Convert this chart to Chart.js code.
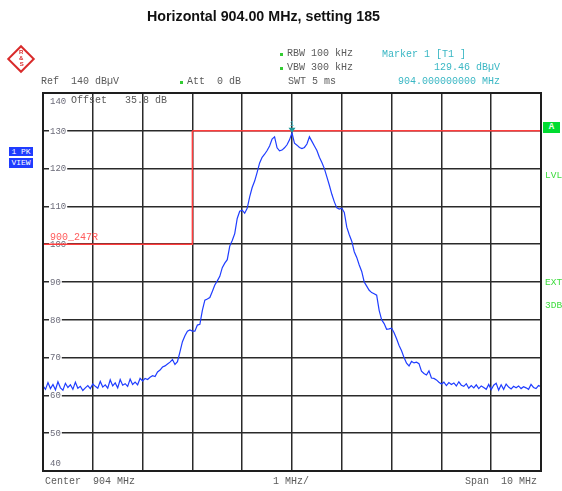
<!DOCTYPE html>
<html>
<head>
<meta charset="utf-8">
<script src="https://cdn.jsdelivr.net/npm/chart.js@4/dist/chart.umd.min.js"></script>
<style>
html,body{margin:0;padding:0;background:#fff;}
#wrap{position:relative;width:562px;height:491px;overflow:hidden;background:#fff;}
#c{position:absolute;left:0;top:0;}
.t{position:absolute;font-family:"Liberation Mono","DejaVu Sans Mono",monospace;font-size:10px;line-height:10px;color:#5a5a5a;white-space:pre;}
.cy{color:#3ab7c4;}
.gr{color:#3fdc3f;font-size:9.5px;}
.dot{position:absolute;width:3px;height:3px;background:#33cc33;}
#title{position:absolute;left:147px;top:8px;font-family:"Liberation Sans Narrow","Liberation Sans",Arial,sans-serif;font-weight:bold;font-size:15px;line-height:15px;color:#111;white-space:pre;transform-origin:0 0;}
.box{position:absolute;background:#1f3cff;color:#fff;font-family:"Liberation Mono",monospace;font-size:8px;line-height:10px;text-align:center;}
#abox{position:absolute;left:543px;top:122px;width:17px;height:11px;background:#00dc30;color:#e8ffe8;font-family:"Liberation Mono",monospace;font-size:9px;line-height:11px;text-align:center;font-weight:bold;}
#logo{position:absolute;left:11px;top:49px;width:16px;height:16px;border:2px solid #d92b2b;transform:rotate(45deg);}
#logo span{position:absolute;font-family:"Liberation Sans",sans-serif;font-size:6px;font-weight:bold;color:#d92b2b;transform:rotate(-45deg);}
</style>
</head>
<body>
<div id="wrap">
<canvas id="c" width="562" height="491"></canvas>
<div id="title">Horizontal 904.00 MHz, setting 185</div>
<div id="logo"><span style="left:1px;top:0px">R</span><span style="left:5px;top:4px">&amp;</span><span style="left:10px;top:8px">S</span></div>

<div class="dot" style="left:280px;top:53px"></div>
<div class="t" style="left:287px;top:49px">RBW 100 kHz</div>
<div class="dot" style="left:280px;top:67px"></div>
<div class="t" style="left:287px;top:63px">VBW 300 kHz</div>
<div class="t cy" style="left:382px;top:50px">Marker 1 [T1 ]</div>
<div class="t cy" style="right:62px;top:63px">129.46 dBµV</div>
<div class="t cy" style="right:62px;top:77px">904.000000000 MHz</div>
<div class="t" style="left:41px;top:77px">Ref  140 dBµV</div>
<div class="dot" style="left:180px;top:81px"></div>
<div class="t" style="left:187px;top:77px">Att  0 dB</div>
<div class="t" style="left:288px;top:77px">SWT 5 ms</div>

<div class="t" style="left:71px;top:96px">Offset   35.8 dB</div>

<div class="box" style="left:9px;top:147px;width:24px;height:9px;line-height:9px;">1 PK</div>
<div class="box" style="left:9px;top:158px;width:24px;height:10px;">VIEW</div>

<div id="abox">A</div>
<div class="t gr" style="left:545px;top:171px">LVL</div>
<div class="t gr" style="left:545px;top:278px">EXT</div>
<div class="t gr" style="left:545px;top:301px">3DB</div>

<div class="t" style="left:45px;top:477px">Center  904 MHz</div>
<div class="t" style="left:273px;top:477px">1 MHz/</div>
<div class="t" style="left:465px;top:477px">Span  10 MHz</div>
</div>

<script>
// ---- data ----
const centerMHz = 904;
const spanMHz = 10;
const sweepPoints = 201;
const freqMHz = Array.from({length: sweepPoints}, (_, i) => centerMHz - spanMHz / 2 + i * spanMHz / (sweepPoints - 1));

const levelDbuV = [
  62.5, 61.6, 63.4, 61.8, 62.9, 61.5, 63.6, 62.0, 61.4, 63.2,
  62.1, 62.8, 61.6, 63.5, 61.9, 62.4, 61.3, 62.0, 62.6, 61.8,
  63.0, 62.4, 61.9, 63.7, 62.2, 62.8, 61.9, 64.1, 62.5, 63.3,
  62.0, 64.2, 62.7, 63.1, 62.4, 64.3, 62.9, 63.5, 62.8, 64.5,
  63.8, 64.5, 64.2, 64.8, 65.2, 65.0, 66.2, 66.7, 67.5, 67.8,
  68.3, 68.8, 69.5, 68.2, 68.9, 71.5, 74.2, 75.8, 77.0, 77.3,
  77.0, 77.0, 78.6, 78.8, 82.5, 85.2, 85.5, 85.9, 87.5, 89.2,
  90.3, 91.5, 93.8, 95.0, 95.9, 99.5, 101.0, 102.8, 106.8, 108.7,
  109.0, 108.2, 109.5, 112.5, 115.0, 116.7, 119.0, 121.5, 123.0, 123.8,
  124.8, 126.0, 127.8, 128.4, 125.5, 124.7, 124.9, 125.5, 126.3, 127.6,
  129.46, 126.7, 126.2, 125.6, 125.3, 125.6, 126.5, 128.4, 127.2, 126.0,
  124.8, 123.0, 121.6, 120.0, 117.8, 115.6, 113.2, 111.2, 109.6, 109.3,
  109.5, 108.4, 104.5, 102.5, 100.8, 98.0, 96.5, 94.5, 92.8, 90.0,
  88.9, 87.8, 87.2, 86.9, 86.5, 82.5, 80.0, 79.0, 77.5, 77.6,
  77.8, 76.6, 75.0, 73.2, 71.8, 70.0, 68.5, 67.8, 69.0, 68.6,
  68.8, 68.4, 66.4, 65.8, 65.4, 66.5, 64.6, 64.5, 64.1, 63.5,
  63.0, 63.5, 62.6, 63.4, 62.9, 63.3, 62.5, 63.6, 62.7, 62.4,
  63.1, 61.9, 62.6, 62.0, 62.8, 61.8, 62.5, 62.1, 61.6, 62.9,
  61.5, 62.7, 63.2, 61.4, 62.8, 61.6, 63.0, 62.2, 61.7, 62.4,
  62.0, 62.5, 61.8, 62.3, 62.0, 61.6, 62.9, 62.1, 61.8, 62.6,
  62.3
];

const yTickValues = [140, 130, 120, 110, 100, 90, 80, 70, 60, 50, 40];
const yTickLabels = ['140', '130', '120', '110', '100', '90', '80', '70', '60', '50', '40'];

const displayLineLevel = 130;      // red display line
const thresholdLevel = 100;        // red lower line
const thresholdEdgeMHz = 902;      // vertical red line position
const thresholdLabel = '900_247R';
const markerFreqMHz = [904];
const markerLevel = [129.46];
const markerNames = ['1'];

// ---- chart ----
const overlay = {
  id: 'overlay',
  beforeDatasetsDraw(chart) {
    const {ctx, chartArea: a, scales: {y}} = chart;
    ctx.save();
    ctx.font = '9px "Liberation Mono", monospace';
    ctx.textBaseline = 'middle';
    const last = yTickValues.length - 1;
    yTickValues.forEach((v, k) => {
      let py = y.getPixelForValue(v);
      const label = yTickLabels[k];
      const w = ctx.measureText(label).width;
      if (k === 0) py += 8;
      else if (k === last) py -= 8;
      else { ctx.fillStyle = '#fff'; ctx.fillRect(a.left + 6, py - 3, w + 2, 6); }
      ctx.fillStyle = '#6a6a78';
      ctx.fillText(label, a.left + 7, py + 0.5);
    });
    // threshold label
    ctx.font = '10px "Liberation Mono", monospace';
    ctx.fillStyle = '#ff5c5c';
    ctx.textBaseline = 'alphabetic';
    ctx.fillText(thresholdLabel, a.left + 7, y.getPixelForValue(thresholdLevel) - 4);
    ctx.restore();
  },
  afterDatasetsDraw(chart) {
    const {ctx, chartArea: a, scales: {x, y}} = chart;
    ctx.save();
    // markers
    markerFreqMHz.forEach((f, k) => {
      const px = x.getPixelForValue(f), py = y.getPixelForValue(markerLevel[k]);
      ctx.fillStyle = '#1f9a9a';
      ctx.beginPath();
      ctx.moveTo(px - 3.5, py - 5);
      ctx.lineTo(px + 3.5, py - 5);
      ctx.lineTo(px, py);
      ctx.closePath();
      ctx.fill();
      ctx.fillStyle = '#45c4cf';
      ctx.font = '8px "Liberation Mono", monospace';
      ctx.textAlign = 'center';
      ctx.textBaseline = 'alphabetic';
      ctx.fillText(markerNames[k], px, py - 7);
    });
    // frame
    ctx.strokeStyle = '#1e1e1e';
    ctx.lineWidth = 2;
    ctx.strokeRect(a.left, a.top, a.right - a.left, a.bottom - a.top);
    ctx.restore();
  }
};

const gridStyle = {color: '#2a2a2a', lineWidth: 1.5, drawTicks: false};

new Chart(document.getElementById('c'), {
  type: 'line',
  data: {
    datasets: [
      {
        label: 'Trace 1',
        data: freqMHz.map((f, i) => ({x: f, y: levelDbuV[i]})),
        borderColor: '#1f3dff',
        borderWidth: 1.2,
        pointRadius: 0,
        tension: 0
      },
      {
        label: 'Display line',
        data: [{x: thresholdEdgeMHz, y: displayLineLevel}, {x: centerMHz + spanMHz / 2, y: displayLineLevel}],
        borderColor: '#ff3c3c',
        borderWidth: 1.5,
        pointRadius: 0
      },
      {
        label: 'Threshold',
        data: [{x: centerMHz - spanMHz / 2, y: thresholdLevel}, {x: thresholdEdgeMHz, y: thresholdLevel}, {x: thresholdEdgeMHz, y: displayLineLevel}],
        borderColor: '#ff3c3c',
        borderWidth: 1.5,
        pointRadius: 0
      }
    ]
  },
  options: {
    responsive: false,
    animation: false,
    layout: {padding: {left: 43, right: 21, top: 93, bottom: 20}},
    plugins: {legend: {display: false}, tooltip: {enabled: false}},
    scales: {
      x: {
        type: 'linear', min: centerMHz - spanMHz / 2, max: centerMHz + spanMHz / 2,
        ticks: {display: false, stepSize: spanMHz / 10},
        grid: gridStyle, border: {display: false}
      },
      y: {
        type: 'linear', min: 40, max: 140,
        ticks: {display: false, stepSize: 10},
        grid: gridStyle, border: {display: false}
      }
    }
  },
  plugins: [overlay]
});

// fit title width to the reference
const title = document.getElementById('title');
const tw = title.getBoundingClientRect().width;
title.style.transform = 'scaleX(' + (233 / tw) + ')';
</script>
</body>
</html>
